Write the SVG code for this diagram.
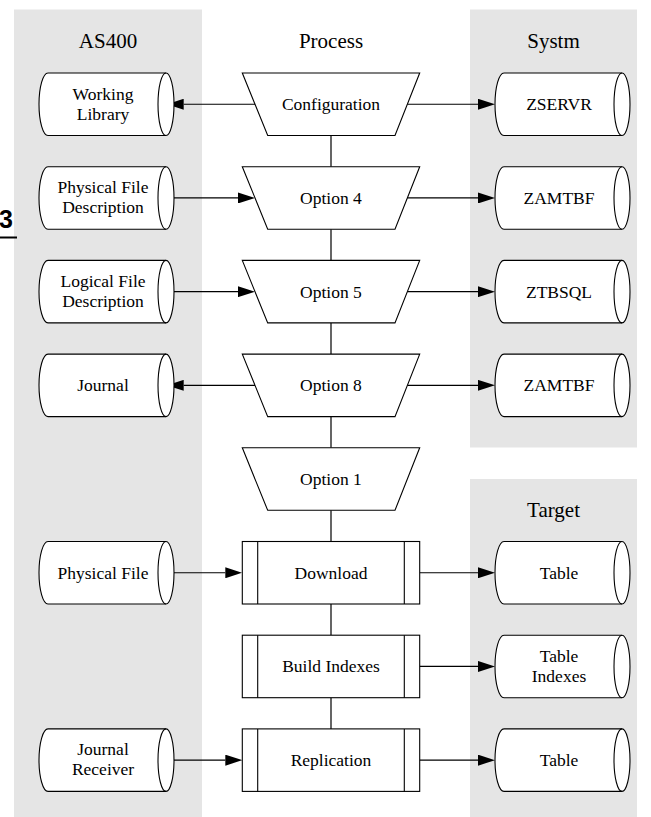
<svg xmlns="http://www.w3.org/2000/svg" xmlns:xlink="http://www.w3.org/1999/xlink" width="651" height="817" viewBox="0 0 651 817" font-family="'Liberation Serif', 'Times New Roman', serif">
<style>
.lane{fill:#e5e5e5;stroke:none}
.hdr{font-family:"Liberation Serif","Times New Roman",serif;font-size:21px;fill:#000;text-anchor:middle}
.lbl{font-family:"Liberation Serif","Times New Roman",serif;font-size:17.5px;fill:#000;text-anchor:middle}
.shape{fill:#fff;stroke:#000;stroke-width:1.1}
.inner{fill:none;stroke:#000;stroke-width:1.1}
.edge{fill:none;stroke:#000;stroke-width:1.2}
</style>
<defs>
<marker id="ah" markerUnits="userSpaceOnUse" markerWidth="17" markerHeight="11" refX="0" refY="5.5" orient="auto">
<path d="M0,0 L17,5.5 L0,11 Z" fill="#000"/>
</marker>
<g id="cyl">
<path class="shape" d="M9,0 H127 A8,31.25 0 0 1 127,62.5 H9 A9,31.25 0 0 1 9,0 Z"/>
<path class="inner" d="M127,0 A8,31.25 0 0 0 127,62.5"/>
</g>
<polygon id="trap" class="shape" points="0,0 177.4,0 152.7,62.5 25.4,62.5"/>
<g id="proc">
<rect class="shape" x="0" y="0" width="177.4" height="62.5"/>
<path class="inner" d="M15.4,0 V62.5 M162,0 V62.5"/>
</g>
</defs>
<rect width="651" height="817" fill="#fff"/>
<g id="lanes">
<rect class="lane" x="14" y="9.5" width="188" height="807.5"/>
<rect class="lane" x="470" y="9.5" width="167" height="438"/>
<rect class="lane" x="470" y="479" width="167" height="338"/>
<text class="hdr" x="108" y="48">AS400</text>
<text class="hdr" x="331" y="48">Process</text>
<text class="hdr" x="553.5" y="48">Systm</text>
<text class="hdr" x="553.5" y="517">Target</text>
</g>
<g id="mark">
<text x="-1" y="228" font-family="'Liberation Sans', Arial, sans-serif" font-size="25" font-weight="bold" fill="#000">3</text>
<line x1="0" y1="237.5" x2="17" y2="237.5" stroke="#000" stroke-width="2"/>
</g>
<g id="connectors">
<path class="edge" d="M331,135.5 V166.7 M331,229.2 V260.4 M331,322.9 V354.1 M331,416.6 V447.8 M331,510.3 V541.5 M331,604 V635.2 M331,697.7 V728.9"/>
<path class="edge" marker-end="url(#ah)" d="M255,104.25 H183.7"/>
<path class="edge" marker-end="url(#ah)" d="M407.3,104.25 H478"/>
<path class="edge" marker-end="url(#ah)" d="M166,197.95 H238"/>
<path class="edge" marker-end="url(#ah)" d="M407.3,197.95 H478"/>
<path class="edge" marker-end="url(#ah)" d="M166,291.65 H238"/>
<path class="edge" marker-end="url(#ah)" d="M407.3,291.65 H478"/>
<path class="edge" marker-end="url(#ah)" d="M255,385.35 H183.7"/>
<path class="edge" marker-end="url(#ah)" d="M407.3,385.35 H478"/>
<path class="edge" marker-end="url(#ah)" d="M166,572.75 H225.3"/>
<path class="edge" marker-end="url(#ah)" d="M419.7,572.75 H478"/>
<path class="edge" marker-end="url(#ah)" d="M419.7,666.45 H478"/>
<path class="edge" marker-end="url(#ah)" d="M166,760.15 H225.3"/>
<path class="edge" marker-end="url(#ah)" d="M419.7,760.15 H478"/>
</g>
<g id="configuration" transform="translate(242.3,73)"><use xlink:href="#trap"/><text class="lbl" font-family="'Liberation Serif', serif" x="88.7" y="37.3">Configuration</text></g>
<g id="option4" transform="translate(242.3,166.7)"><use xlink:href="#trap"/><text class="lbl" x="88.7" y="37.3">Option 4</text></g>
<g id="option5" transform="translate(242.3,260.4)"><use xlink:href="#trap"/><text class="lbl" x="88.7" y="37.3">Option 5</text></g>
<g id="option8" transform="translate(242.3,354.1)"><use xlink:href="#trap"/><text class="lbl" x="88.7" y="37.3">Option 8</text></g>
<g id="option1" transform="translate(242.3,447.8)"><use xlink:href="#trap"/><text class="lbl" x="88.7" y="37.3">Option 1</text></g>
<g id="download" transform="translate(242.3,541.5)"><use xlink:href="#proc"/><text class="lbl" x="88.7" y="37.3">Download</text></g>
<g id="buildindexes" transform="translate(242.3,635.2)"><use xlink:href="#proc"/><text class="lbl" x="88.7" y="37.3">Build Indexes</text></g>
<g id="replication" transform="translate(242.3,728.9)"><use xlink:href="#proc"/><text class="lbl" x="88.7" y="37.3">Replication</text></g>
<g id="workinglibrary" transform="translate(39,73)"><use xlink:href="#cyl"/><text class="lbl" x="64" y="26.5">Working</text><text class="lbl" x="64" y="46.5">Library</text></g>
<g id="physicalfiledescription" transform="translate(39,166.7)"><use xlink:href="#cyl"/><text class="lbl" x="64" y="26.5">Physical File</text><text class="lbl" x="64" y="46.5">Description</text></g>
<g id="logicalfiledescription" transform="translate(39,260.4)"><use xlink:href="#cyl"/><text class="lbl" x="64" y="26.5">Logical File</text><text class="lbl" x="64" y="46.5">Description</text></g>
<g id="journal" transform="translate(39,354.1)"><use xlink:href="#cyl"/><text class="lbl" x="64" y="37.3">Journal</text></g>
<g id="physicalfile" transform="translate(39,541.5)"><use xlink:href="#cyl"/><text class="lbl" x="64" y="37.3">Physical File</text></g>
<g id="journalreceiver" transform="translate(39,728.9)"><use xlink:href="#cyl"/><text class="lbl" x="64" y="26.5">Journal</text><text class="lbl" x="64" y="46.5">Receiver</text></g>
<g id="zservr" transform="translate(495,73)"><use xlink:href="#cyl"/><text class="lbl" x="64" y="37.3">ZSERVR</text></g>
<g id="zamtbf1" transform="translate(495,166.7)"><use xlink:href="#cyl"/><text class="lbl" x="64" y="37.3">ZAMTBF</text></g>
<g id="ztbsql" transform="translate(495,260.4)"><use xlink:href="#cyl"/><text class="lbl" x="64" y="37.3">ZTBSQL</text></g>
<g id="zamtbf2" transform="translate(495,354.1)"><use xlink:href="#cyl"/><text class="lbl" x="64" y="37.3">ZAMTBF</text></g>
<g id="table1" transform="translate(495,541.5)"><use xlink:href="#cyl"/><text class="lbl" x="64" y="37.3">Table</text></g>
<g id="tableindexes" transform="translate(495,635.2)"><use xlink:href="#cyl"/><text class="lbl" x="64" y="26.5">Table</text><text class="lbl" x="64" y="46.5">Indexes</text></g>
<g id="table2" transform="translate(495,728.9)"><use xlink:href="#cyl"/><text class="lbl" x="64" y="37.3">Table</text></g>
</svg>
